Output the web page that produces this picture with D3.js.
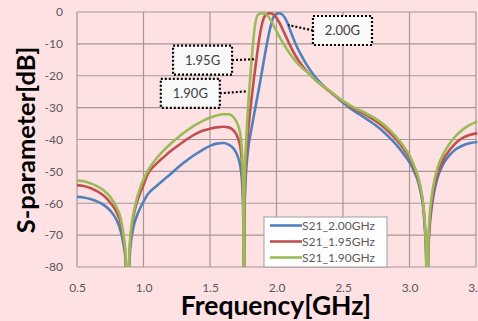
<!DOCTYPE html>
<html>
<head>
<meta charset="utf-8">
<script src="https://cdn.jsdelivr.net/npm/d3@7"></script>
<style>
  html, body { margin: 0; padding: 0; background: #fde1e3; }
  svg { display: block; font-family: Lato, "Open Sans", sans-serif; }
</style>
</head>
<body>
<div id="chart-div"></div>
<script>
// Chart constants
const WIDTH = 478;
const HEIGHT = 321;
const PLOT = { left: 77, right: 476, top: 12, bottom: 267 };

// Tick values
const X_TICKS = [0.5, 1.0, 1.5, 2.0, 2.5, 3.0, 3.5];
const Y_TICKS = [0, -10, -20, -30, -40, -50, -60, -70, -80];

// Series names + colours
const SERIES_NAMES = ["S21_2.00GHz", "S21_1.95GHz", "S21_1.90GHz"];
const SERIES_COLORS = ["#4f81bd", "#c0504d", "#9bbb59"];

// S21 at 2.00 GHz (blue)
const freq200 = [
  0.5, 0.55, 0.6, 0.65, 0.7, 0.75, 0.8, 0.83, 0.85, 0.865, 0.882,
  0.886, 0.893, 0.9, 0.915, 0.93, 0.95, 0.975, 1.0, 1.03, 1.1, 1.15, 1.2, 1.25, 1.3, 1.35, 1.4, 1.45, 1.5, 1.55, 1.6, 1.64, 1.68, 1.71, 1.73, 1.743, 1.75, 1.754,
  1.758, 1.765, 1.775, 1.79, 1.81, 1.83, 1.85, 1.87, 1.89, 1.91, 1.93, 1.95, 1.96, 1.97, 1.98, 2.0, 2.02, 2.04, 2.06, 2.08, 2.1, 2.12, 2.15, 2.2, 2.25,
  2.3, 2.35, 2.4, 2.45, 2.5, 2.55, 2.6, 2.65, 2.7, 2.75, 2.8, 2.85, 2.9, 2.95, 3.0, 3.04, 3.07, 3.09, 3.105, 3.115, 3.125, 3.132,
  3.136, 3.142, 3.15, 3.165, 3.183, 3.21, 3.258, 3.3, 3.35, 3.4, 3.45, 3.51];
const s21_200 = [
  -58, -58.2, -58.7, -59.4, -60.5, -62.3, -65.5, -69, -73, -78, -100,
  -88, -79, -74.5, -69.5, -66.5, -64, -61.5, -59.5, -57.3, -54.5, -52.7, -51, -49.1, -47.4, -45.8, -44.4, -43.1, -42, -41.3, -41.1, -41.6, -43, -45.5, -49, -55, -64, -100,
  -66, -55, -48, -42, -37, -32.5, -28, -23.5, -18.8, -14, -9.5, -5.5, -3.8, -2.4, -1.4, -0.6, -0.4, -0.7, -1.6, -3.2, -5.4, -7.6, -10.6, -14.6, -18,
  -20.8, -23, -24.9, -26.7, -28.5, -30.1, -31.5, -32.8, -34.2, -35.7, -37.4, -39.4, -41.6, -44.2, -47.2, -50.5, -54, -57.8, -62, -67.5, -76, -100,
  -87, -75, -68.5, -62, -57, -52.2, -47.4, -45, -43, -41.9, -41.2, -40.8];

// S21 at 1.95 GHz (red)
const freq195 = [
  0.5, 0.55, 0.6, 0.65, 0.7, 0.75, 0.8, 0.83, 0.85, 0.865, 0.882,
  0.886, 0.893, 0.9, 0.915, 0.93, 0.95, 0.975, 1.0, 1.03, 1.1, 1.15, 1.2, 1.25, 1.3, 1.35, 1.4, 1.45, 1.5, 1.55, 1.6, 1.64, 1.68, 1.71, 1.73, 1.743, 1.75, 1.754,
  1.758, 1.765, 1.775, 1.79, 1.81, 1.83, 1.85, 1.87, 1.89, 1.9, 1.91, 1.93, 1.95, 1.97, 1.99, 2.01, 2.03, 2.05, 2.08, 2.1, 2.15, 2.2, 2.25,
  2.3, 2.35, 2.4, 2.45, 2.5, 2.55, 2.6, 2.65, 2.7, 2.75, 2.8, 2.85, 2.9, 2.95, 3.0, 3.04, 3.07, 3.09, 3.105, 3.115, 3.125, 3.132,
  3.136, 3.142, 3.15, 3.165, 3.183, 3.21, 3.258, 3.3, 3.35, 3.4, 3.45, 3.51];
const s21_195 = [
  -54.3, -54.6, -55.2, -56.2, -57.6, -59.8, -63, -66.5, -71, -77, -100,
  -88, -77, -72, -66.5, -63, -59.8, -56.8, -54.3, -51, -47.5, -45.6, -43.8, -42.2, -40.7, -39.3, -38.1, -37.2, -36.6, -36.2, -36, -36.2, -37.3, -39.5, -43, -50, -60, -100,
  -64, -52, -44, -36, -28, -21, -14.5, -8.5, -4, -2.5, -1.4, -0.6, -0.4, -0.6, -1.3, -2.5, -4, -5.8, -8.5, -10.3, -14.2, -17.2, -19.6,
  -21.6, -23.3, -24.9, -26.5, -28.1, -29.5, -30.7, -31.8, -33, -34.3, -35.9, -37.8, -40, -42.6, -45.8, -49.5, -53, -57, -61.5, -67, -76, -100,
  -86, -74, -67, -60.5, -55.5, -50.8, -46, -43.4, -41, -39.5, -38.6, -38];

// S21 at 1.90 GHz (green)
const freq190 = [
  0.5, 0.55, 0.6, 0.65, 0.7, 0.75, 0.8, 0.83, 0.85, 0.865, 0.882,
  0.886, 0.893, 0.9, 0.915, 0.93, 0.95, 0.975, 1.0, 1.03, 1.1, 1.15, 1.2, 1.25, 1.3, 1.35, 1.4, 1.45, 1.5, 1.55, 1.6, 1.64, 1.68, 1.71, 1.73, 1.743, 1.75, 1.754,
  1.757, 1.762, 1.77, 1.78, 1.79, 1.8, 1.81, 1.82, 1.83, 1.84, 1.85, 1.86, 1.88, 1.9, 1.92, 1.94, 1.96, 1.98, 2.0, 2.05, 2.1, 2.15, 2.2, 2.25,
  2.3, 2.35, 2.4, 2.45, 2.5, 2.55, 2.6, 2.65, 2.7, 2.75, 2.8, 2.85, 2.9, 2.95, 3.0, 3.04, 3.07, 3.09, 3.105, 3.115, 3.125, 3.132,
  3.136, 3.142, 3.15, 3.165, 3.183, 3.21, 3.258, 3.3, 3.35, 3.4, 3.45, 3.51];
const s21_190 = [
  -52.9, -53.1, -53.7, -54.6, -55.9, -58, -61.5, -65, -70, -76, -100,
  -88, -76, -71, -65.5, -62, -58.5, -55.3, -52.5, -50, -45.8, -43.5, -41.5, -39.7, -38, -36.5, -35.2, -34.1, -33.2, -32.5, -32.1, -32.1, -33.2, -35.5, -39, -46, -57, -100,
  -62, -50, -42, -34, -27.5, -22, -16.5, -11.5, -7, -3.8, -1.8, -0.9, -0.5, -0.4, -0.7, -1.5, -2.8, -4.4, -6, -9.8, -13, -15.7, -17.8, -19.6,
  -21.6, -23.2, -24.8, -26.4, -27.9, -29.2, -30.3, -31.3, -32.4, -33.6, -35.1, -37, -39.2, -41.8, -45, -48.8, -52.5, -56.5, -61, -66, -75, -100,
  -85, -72, -65, -58.5, -53.7, -49, -44.3, -41.4, -38.8, -36.9, -35.5, -34.3];

// Callout labels: text, pointed-at spot and box centre, in data units
const CALLOUT_TEXT = ["2.00G", "1.95G", "1.90G"];
const CALLOUT_TARGET = [[2.089, -4.1], [1.846, -14.8], [1.776, -24.9]];
const CALLOUT_CENTER = [[2.496, -5.8], [1.444, -15.1], [1.352, -25.5]];

let svg;

setup();
draw();

function setup() {
  svg = d3
    .select("#chart-div")
    .append("svg")
    .attr("width", WIDTH)
    .attr("height", HEIGHT);

  svg.append("rect")
    .attr("width", WIDTH)
    .attr("height", HEIGHT)
    .attr("fill", "#fde1e3");

  svg.append("clipPath")
    .attr("id", "plot-clip")
    .append("rect")
    .attr("x", PLOT.left)
    .attr("y", PLOT.top)
    .attr("width", WIDTH - PLOT.left)
    .attr("height", PLOT.bottom - PLOT.top);
}

function draw() {
  const x = d3.scaleLinear().domain([0.5, 3.5]).range([PLOT.left, PLOT.right]);
  const y = d3.scaleLinear().domain([-80, 0]).range([PLOT.bottom, PLOT.top]);

  // gridlines
  const grid = svg.append("g").attr("class", "grid");
  grid.selectAll("line.v")
    .data(X_TICKS)
    .enter()
    .append("line")
    .attr("class", "v")
    .attr("x1", (d) => x(d))
    .attr("x2", (d) => x(d))
    .attr("y1", PLOT.top)
    .attr("y2", PLOT.bottom);
  grid.selectAll("line.h")
    .data(Y_TICKS)
    .enter()
    .append("line")
    .attr("class", "h")
    .attr("x1", PLOT.left)
    .attr("x2", PLOT.right)
    .attr("y1", (d) => y(d))
    .attr("y2", (d) => y(d));
  grid.selectAll("line")
    .attr("stroke", "#a69797")
    .attr("stroke-width", 1.2);

  // axes (labels only, grid does the lines)
  const xAxis = svg.append("g")
    .attr("transform", `translate(0, ${PLOT.bottom + 13})`)
    .call(d3.axisBottom(x).tickValues(X_TICKS).tickFormat(d3.format(".1f")).tickSize(0));
  const yAxis = svg.append("g")
    .attr("transform", `translate(${PLOT.left - 11}, 0)`)
    .call(d3.axisLeft(y).tickValues(Y_TICKS).tickFormat((d) => d).tickSize(0));
  [xAxis, yAxis].forEach((a) => {
    a.select(".domain").remove();
    a.selectAll("text")
      .attr("fill", "#595959")
      .style("font-size", "12px")
      .style("font-family", "Lato, sans-serif");
  });

  // axis titles
  svg.append("text")
    .attr("x", 276)
    .attr("y", 315)
    .attr("text-anchor", "middle")
    .attr("font-size", 26.5)
    .attr("font-weight", "bold")
    .attr("fill", "#000")
    .text("Frequency[GHz]");

  svg.append("text")
    .attr("transform", "translate(35, 140) rotate(-90)")
    .attr("text-anchor", "middle")
    .attr("font-size", 25.5)
    .attr("font-weight", "bold")
    .attr("fill", "#000")
    .text("S-parameter[dB]");

  // lines
  const seriesData = [
    d3.zip(freq200, s21_200),
    d3.zip(freq195, s21_195),
    d3.zip(freq190, s21_190),
  ];

  const lineGenerator = d3
    .line()
    .x((d) => x(d[0]))
    .y((d) => y(d[1]))
    .curve(d3.curveMonotoneX);

  svg.append("g")
    .attr("clip-path", "url(#plot-clip)")
    .selectAll("path")
    .data(seriesData)
    .enter()
    .append("path")
    .attr("d", lineGenerator)
    .attr("fill", "none")
    .attr("stroke", (d, i) => SERIES_COLORS[i])
    .attr("stroke-width", 2.6)
    .attr("stroke-linejoin", "round");

  // callouts
  const callouts = CALLOUT_TEXT.map((t, i) => ({
    text: t,
    tx: x(CALLOUT_TARGET[i][0]),
    ty: y(CALLOUT_TARGET[i][1]),
    cx: x(CALLOUT_CENTER[i][0]),
    cy: y(CALLOUT_CENTER[i][1]),
  }));
  const boxW = 59;
  const boxH = 29;
  const cg = svg.append("g").selectAll("g").data(callouts).enter().append("g");
  cg.append("line")
    .attr("x1", (d) => (d.tx > d.cx ? d.cx + boxW / 2 : d.cx - boxW / 2))
    .attr("y1", (d) => d.cy)
    .attr("x2", (d) => d.tx)
    .attr("y2", (d) => d.ty)
    .attr("stroke", "#000")
    .attr("stroke-width", 2.2)
    .attr("stroke-dasharray", "2,2");
  cg.append("rect")
    .attr("x", (d) => d.cx - boxW / 2)
    .attr("y", (d) => d.cy - boxH / 2)
    .attr("width", boxW)
    .attr("height", boxH)
    .attr("fill", "#f9f9f9")
    .attr("stroke", "#000")
    .attr("stroke-width", 2.2)
    .attr("stroke-dasharray", "2,2");
  cg.append("text")
    .attr("x", (d) => d.cx)
    .attr("y", (d) => d.cy + 4.5)
    .attr("text-anchor", "middle")
    .attr("font-size", 13)
    .attr("fill", "#404040")
    .text((d) => d.text);

  // legend
  const legend = svg.append("g").attr("transform", "translate(264, 217)");
  legend.append("rect")
    .attr("width", 123)
    .attr("height", 50)
    .attr("fill", "#ffffff")
    .attr("stroke", "#a0a0a0")
    .attr("stroke-width", 1);
  const rows = legend.selectAll("g.row")
    .data(SERIES_NAMES)
    .enter()
    .append("g")
    .attr("class", "row")
    .attr("transform", (d, i) => `translate(0, ${8.5 + i * 16})`);
  rows.append("line")
    .attr("x1", 6)
    .attr("x2", 38)
    .attr("stroke", (d, i) => SERIES_COLORS[i])
    .attr("stroke-width", 2.6);
  rows.append("text")
    .attr("x", 38)
    .attr("y", 4)
    .attr("font-size", 12)
    .attr("fill", "#595959")
    .text((d) => d);
}
</script>
</body>
</html>
